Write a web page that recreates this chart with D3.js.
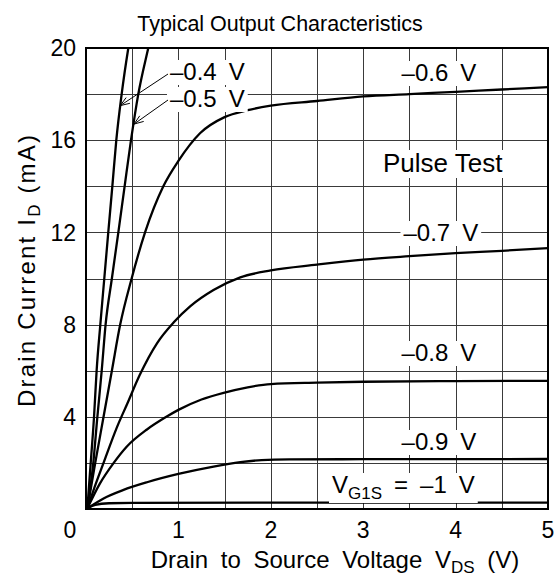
<!doctype html>
<html>
<head>
<meta charset="utf-8">
<style>
  body { margin: 0; background: #fff; }
  svg { display: block; }
  text { font-family: "Liberation Sans", Arial, Helvetica, sans-serif; fill: #000; }
  .grid line { stroke: #3a3a3a; stroke-width: 1; shape-rendering: crispEdges; }
  .curve { fill: none; stroke: #000; stroke-width: 2.3; }
</style>
<script src="https://d3js.org/d3.v7.min.js"></script>
</head>
<body>
<svg width="557" height="578"></svg>
<script>
// axis ticks
var xTicks = [0, 1, 2, 3, 4, 5];
var yTicks = [4, 8, 12, 16, 20];

// Drain current curves, [VDS (V), ID (mA)] for each gate voltage
var id04 = [[0.015,0.03],[0.051,2],[0.087,4],[0.115,6],[0.155,8],[0.198,10],[0.241,12],[0.285,14],[0.328,16],[0.386,18],[0.458,20],[0.5,21]];
var id05 = [[0.015,0.03],[0.079,2],[0.123,4],[0.17,6],[0.212,8],[0.28,10],[0.35,12],[0.418,14],[0.487,16],[0.566,18],[0.674,20],[0.73,21]];
var id06 = [[0.015,0.03],[0.1,2],[0.19,4],[0.28,6],[0.37,8],[0.494,10],[0.639,12],[0.837,14],[1.0,15.1],[1.234,16.3],[1.5,17.0],[1.75,17.3],[2.0,17.5],[2.5,17.7],[3.0,17.9],[3.5,18.0],[4.0,18.1],[4.5,18.2],[5.0,18.3]];
var id07 = [[0.015,0.03],[0.08,0.8],[0.19,2],[0.33,3.5],[0.45,4.6],[0.58,5.8],[0.77,7.2],[0.95,8.1],[1.13,8.8],[1.38,9.5],[1.67,10.05],[2.0,10.35],[2.5,10.6],[3.0,10.82],[3.5,10.97],[4.0,11.1],[4.5,11.2],[5.0,11.32]];
var id08 = [[0.015,0.03],[0.15,1.1],[0.3,2],[0.44,2.7],[0.66,3.45],[0.87,4.0],[1.0,4.3],[1.25,4.75],[1.5,5.05],[1.75,5.28],[2.0,5.42],[2.5,5.48],[3,5.52],[4,5.55],[5,5.56]];
var id09 = [[0.015,0.03],[0.19,0.46],[0.4,0.82],[0.66,1.16],[1.0,1.52],[1.38,1.84],[1.67,2.03],[1.9,2.12],[2.2,2.15],[3,2.16],[5,2.17]];
var id10 = [[0.015,0.03],[0.1,0.18],[0.25,0.25],[0.5,0.27],[5,0.28]];

var svg = d3.select("svg"),
    pLeft = 86, pTop = 48, pRight = 548, pBottom = 509;

var x = d3.scaleLinear().domain([0, 5]).range([pLeft, pRight]);
var y = d3.scaleLinear().domain([0, 20]).range([pBottom, pTop]);

svg.append("text")
   .attr("x", 280).attr("y", 31)
   .attr("text-anchor", "middle")
   .attr("font-size", "21.5px")
   .text("Typical Output Characteristics");

// grid
var grid = svg.append("g").attr("class", "grid");
grid.selectAll(".v").data(d3.range(0.5, 5, 0.5)).enter().append("line")
    .attr("x1", function(d) { return Math.round(x(d)) + 0.5; })
    .attr("x2", function(d) { return Math.round(x(d)) + 0.5; })
    .attr("y1", pTop).attr("y2", pBottom);
grid.selectAll(".h").data(d3.range(2, 20, 2)).enter().append("line")
    .attr("y1", function(d) { return Math.round(y(d)) + 0.5; })
    .attr("y2", function(d) { return Math.round(y(d)) + 0.5; })
    .attr("x1", pLeft).attr("x2", pRight);

svg.append("clipPath").attr("id", "plot")
   .append("rect").attr("x", pLeft).attr("y", pTop)
   .attr("width", pRight - pLeft).attr("height", pBottom - pTop);

var line = d3.line()
    .x(function(d) { return x(d[0]); })
    .y(function(d) { return y(d[1]); })
    .curve(d3.curveMonotoneX);

var curves = svg.append("g").attr("clip-path", "url(#plot)");
[id04, id05, id06, id07, id08, id09, id10].forEach(function(c) {
    curves.append("path").attr("class", "curve").attr("d", line(c));
});

svg.append("rect")
   .attr("x", pLeft).attr("y", pTop)
   .attr("width", pRight - pLeft).attr("height", pBottom - pTop)
   .attr("fill", "none").attr("stroke", "#000").attr("stroke-width", 2);

// tick labels
svg.selectAll(".xt").data(xTicks).enter().append("text")
   .attr("x", function(d) { return d === 0 ? x(d) - 16 : x(d); })
   .attr("y", 538)
   .attr("text-anchor", "middle")
   .attr("font-size", "23px")
   .text(function(d) { return d; });
svg.selectAll(".yt").data(yTicks).enter().append("text")
   .attr("x", 76)
   .attr("y", function(d) { return y(d); })
   .attr("dy", "0.36em")
   .attr("text-anchor", "end")
   .attr("font-size", "23px")
   .text(function(d) { return d; });

// axis titles
var xl = svg.append("text")
   .attr("x", 335).attr("y", 568)
   .attr("text-anchor", "middle")
   .attr("font-size", "24px")
   .attr("word-spacing", "6px");
xl.append("tspan").text("Drain to Source Voltage V");
xl.append("tspan").attr("font-size", "17px").attr("dy", 5).text("DS");
xl.append("tspan").attr("dy", -5).text(" (V)");

var yl = svg.append("text")
   .attr("transform", "translate(35,271) rotate(-90)")
   .attr("text-anchor", "middle")
   .attr("font-size", "24px")
   .attr("textLength", 272)
   .attr("lengthAdjust", "spacing");
yl.append("tspan").text("Drain Current I");
yl.append("tspan").attr("font-size", "17px").attr("dy", 5).text("D");
yl.append("tspan").attr("dy", -5).text(" (mA)");

// curve labels, white box behind each
var labels = svg.append("g");
function label(px, py, anchor, parts, size) {
    var g = labels.append("g");
    var t = g.append("text").attr("x", px).attr("y", py)
        .attr("text-anchor", anchor).attr("font-size", (size || 24) + "px");
    parts.forEach(function(p) {
        var s = t.append("tspan").text(p[0]);
        if (p[1]) s.attr("font-size", p[1] + "px");
        if (p[2]) s.attr("dy", p[2]);
    });
    var b = t.node().getBBox();
    g.insert("rect", "text")
     .attr("x", b.x - 3).attr("y", b.y + 2)
     .attr("width", b.width + 6).attr("height", b.height - 2)
     .attr("fill", "#fff");
    return b;
}

label(170, 80, "start", [["\u20130.4\u2002V"]]);
label(170, 107, "start", [["\u20130.5\u2002V"]]);
label(x(3.82), 81, "middle", [["\u20130.6\u2002V"]]);
label(x(3.86), 172, "middle", [["Pulse Test"]], 26);
label(x(3.84), 241, "middle", [["\u20130.7\u2002V"]]);
label(x(3.82), 361, "middle", [["\u20130.8\u2002V"]]);
label(x(3.82), 450, "middle", [["\u20130.9\u2002V"]]);
label(332, 493, "start", [["V"], ["G1S", 17, 6], ["\u2002=\u2002\u20131\u2002V", null, -6]]);

// leader arrows for -0.4 V and -0.5 V
function arrow(x0, y0, pt) {
    var x1 = x(pt[0]), y1 = y(pt[1]);
    var a = Math.atan2(y0 - y1, x0 - x1), len = 10, sp = 0.35;
    var g = svg.append("g").attr("stroke", "#000").attr("stroke-width", 1).attr("fill", "none");
    g.append("line").attr("x1", x0).attr("y1", y0).attr("x2", x1).attr("y2", y1);
    g.append("path").attr("d",
        "M" + (x1 + len * Math.cos(a + sp)) + "," + (y1 + len * Math.sin(a + sp)) +
        "L" + x1 + "," + y1 +
        "L" + (x1 + len * Math.cos(a - sp)) + "," + (y1 + len * Math.sin(a - sp)));
}
arrow(168, 74, [0.37, 17.5]);
arrow(168, 100, [0.52, 16.7]);
</script>
</body>
</html>
